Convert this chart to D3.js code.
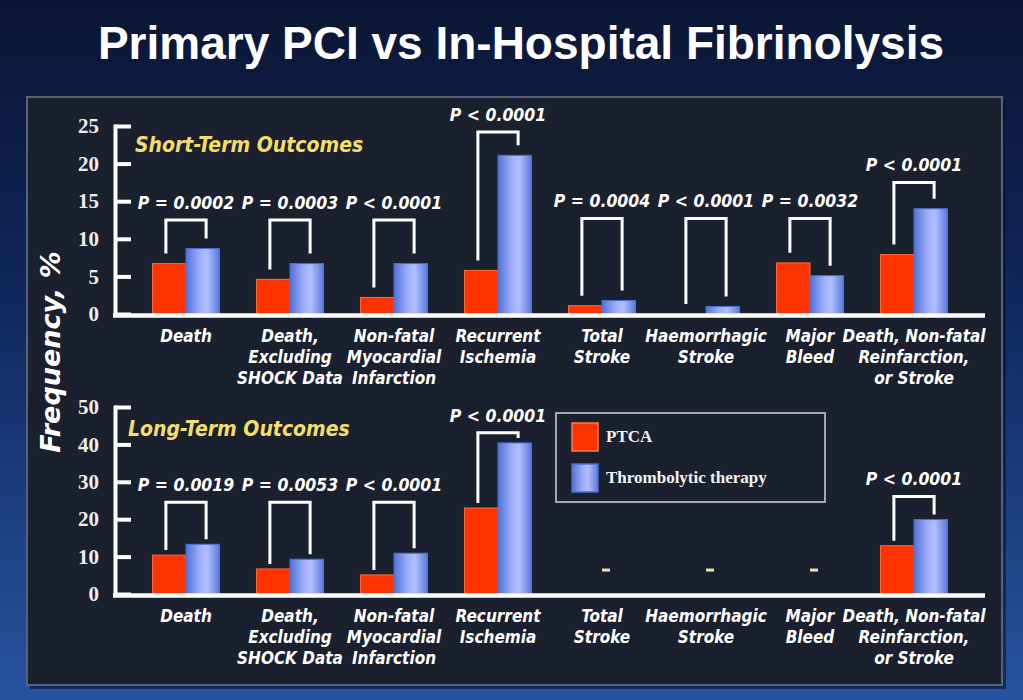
<!DOCTYPE html>
<html>
<head>
<meta charset="utf-8">
<script src="https://cdn.jsdelivr.net/npm/d3@7"></script>
<style>
  body { margin: 0; background: #0b1734; }
  svg { display: block; }
</style>
</head>
<body>
<script>
// chart data
const categories = ["Death", "Death,\nExcluding\nSHOCK Data", "Non-fatal\nMyocardial\nInfarction",
  "Recurrent\nIschemia", "Total\nStroke", "Haemorrhagic\nStroke", "Major\nBleed",
  "Death, Non-fatal\nReinfarction,\nor Stroke"];
const series = ["PTCA", "Thrombolytic therapy"];

const shortPTCA = [6.7, 4.6, 2.2, 5.8, 1.1, 0, 6.8, 7.9];
const shortThrombo = [8.7, 6.7, 6.7, 21.1, 1.8, 1.0, 5.1, 14.0];
const shortP = ["P = 0.0002", "P = 0.0003", "P < 0.0001", "P < 0.0001", "P = 0.0004", "P < 0.0001", "P = 0.0032", "P < 0.0001"];
const shortBracket = [12.5, 12.5, 12.5, 24.2, 12.7, 12.7, 12.7, 17.5];
const shortTicks = [0, 5, 10, 15, 20, 25];

const longPTCA = [10.4, 6.7, 5.1, 23.0, null, null, null, 12.9];
const longThrombo = [13.3, 9.3, 10.9, 40.4, null, null, null, 19.9];
const longP = ["P = 0.0019", "P = 0.0053", "P < 0.0001", "P < 0.0001", null, null, null, "P < 0.0001"];
const longBracket = [24.5, 24.5, 24.5, 43.1, null, null, null, 26.1];
const longTicks = [0, 10, 20, 30, 40, 50];

const width = 1023;
const height = 700;
const svg = d3.select("body").append("svg")
    .attr("width", width)
    .attr("height", height);

const defs = svg.append("defs");
const bg = defs.append("linearGradient").attr("id", "bg")
    .attr("x1", 0).attr("y1", 0).attr("x2", 0).attr("y2", 1);
bg.append("stop").attr("offset", "0%").attr("stop-color", "#0a1634");
bg.append("stop").attr("offset", "40%").attr("stop-color", "#10255a");
bg.append("stop").attr("offset", "100%").attr("stop-color", "#2654a0");

const blue = defs.append("linearGradient").attr("id", "blueBar")
    .attr("x1", 0).attr("y1", 0).attr("x2", 1).attr("y2", 0);
blue.append("stop").attr("offset", "0%").attr("stop-color", "#5272d6");
blue.append("stop").attr("offset", "40%").attr("stop-color", "#9cadf8");
blue.append("stop").attr("offset", "62%").attr("stop-color", "#b2bdff");
blue.append("stop").attr("offset", "100%").attr("stop-color", "#5a7bdf");

svg.append("rect").attr("width", width).attr("height", height).attr("fill", "url(#bg)");

// title
svg.append("text")
    .attr("x", 521).attr("y", 59)
    .attr("text-anchor", "middle")
    .attr("font-family", "'Liberation Sans', Arial, sans-serif")
    .attr("font-weight", "bold")
    .attr("font-size", 46)
    .attr("fill", "#ffffff")
    .text("Primary PCI vs In-Hospital Fibrinolysis");

// panel
svg.append("rect")
    .attr("x", 30).attr("y", 100).attr("width", 976).attr("height", 589)
    .attr("fill", "#0a1228").attr("opacity", 0.6);
svg.append("rect")
    .attr("x", 27).attr("y", 97).attr("width", 975).attr("height", 588)
    .attr("fill", "#1a202d")
    .attr("stroke", "#55637c").attr("stroke-width", 2);

svg.append("text")
    .attr("transform", "translate(60,352) rotate(-90)")
    .attr("text-anchor", "middle")
    .attr("font-family", "'DejaVu Sans', Verdana, sans-serif")
    .attr("font-weight", "bold").attr("font-style", "italic")
    .attr("font-size", 27)
    .attr("fill", "#ffffff")
    .text("Frequency, %");

const x0 = d3.scaleBand()
    .domain(categories)
    .range([134, 966])
    .paddingInner(0.355)
    .paddingOuter(0.1775);
const x1 = d3.scaleBand()
    .domain(series)
    .range([0, x0.bandwidth()]);

const axisX = 115;
const axisEnd = 985;

function drawChart(opts) {
  const g = svg.append("g");
  const y = d3.scaleLinear().domain([0, opts.ticks[opts.ticks.length - 1]]).range(opts.range);

  const yAxis = g.append("g")
      .attr("transform", `translate(${axisX},0)`)
      .call(d3.axisLeft(y).tickValues(opts.ticks).tickSizeInner(-16).tickSizeOuter(0).tickPadding(16));
  yAxis.select(".domain").attr("stroke", "#fff").attr("stroke-width", 4).attr("stroke-linecap", "square");
  yAxis.selectAll(".tick line").attr("stroke", "#fff").attr("stroke-width", 4);
  yAxis.selectAll(".tick text")
      .attr("fill", "#eeeeee")
      .attr("font-family", "'Liberation Serif', 'Times New Roman', serif")
      .attr("font-weight", "bold")
      .attr("font-size", 21);

  // section title
  g.append("text")
      .attr("x", opts.titleX).attr("y", opts.titleY)
      .attr("font-family", "'DejaVu Sans Condensed', 'DejaVu Sans', sans-serif")
      .attr("font-weight", "bold").attr("font-style", "italic")
      .attr("font-size", 21)
      .attr("fill", "#f2de6c")
      .attr("stroke", "#2a2410").attr("stroke-width", 0.6).attr("paint-order", "stroke")
      .text(opts.title);

  const rows = categories.map((c, i) => ({
    cat: c,
    vals: [opts.ptca[i], opts.thrombo[i]],
    p: opts.p[i],
    bracket: opts.bracket[i]
  }));

  // bars
  const groups = g.selectAll(".grp").data(rows).enter().append("g")
      .attr("transform", d => `translate(${x0(d.cat)},0)`);
  groups.selectAll("rect")
      .data(d => d.vals.map((v, k) => ({ s: series[k], v: v })).filter(e => e.v != null && e.v > 0))
      .enter().append("rect")
      .attr("x", e => x1(e.s))
      .attr("y", e => y(e.v))
      .attr("width", x1.bandwidth())
      .attr("height", e => y(0) - y(e.v))
      .attr("fill", e => e.s === "PTCA" ? "#ff3300" : "url(#blueBar)")
      .attr("stroke", e => e.s === "PTCA" ? "#ff6a3a" : "#4a6fd3")
      .attr("stroke-width", 1);

  // brackets and p values
  const off = x0.bandwidth() * 0.3;
  const withP = rows.filter(d => d.p != null);
  withP.forEach(d => {
    const cx = x0(d.cat) + x0.bandwidth() / 2;
    const top = y(d.bracket);
    const yl = y(d.vals[0]) - opts.gap;
    const yr = y(d.vals[1]) - opts.gap;
    g.append("path")
        .attr("d", `M${cx - off},${yl}V${top}H${cx + off}V${yr}`)
        .attr("fill", "none")
        .attr("stroke", "#ffffff")
        .attr("stroke-width", 3);
    g.append("text")
        .attr("x", cx).attr("y", top - 11)
        .attr("text-anchor", "middle")
        .attr("font-family", "'DejaVu Sans Condensed', 'DejaVu Sans', sans-serif")
        .attr("font-weight", "bold").attr("font-style", "italic")
        .attr("font-size", 17.5)
        .attr("fill", "#ffffff")
        .text(d.p);
  });

  // missing-data dashes
  rows.filter(d => d.vals[0] == null).forEach(d => {
    g.append("rect")
        .attr("x", x0(d.cat) + x0.bandwidth() / 2)
        .attr("y", y(6.4) - 1.5)
        .attr("width", 8).attr("height", 3)
        .attr("fill", "#f7d9a4");
  });

  // x axis line
  g.append("line")
      .attr("x1", axisX - 2).attr("x2", axisEnd)
      .attr("y1", y(0) + 1.5).attr("y2", y(0) + 1.5)
      .attr("stroke", "#fff").attr("stroke-width", 4.5);

  // category labels
  const labs = g.selectAll(".cat").data(categories).enter().append("text")
      .attr("x", d => x0(d) + x0.bandwidth() / 2)
      .attr("y", y(0) + 28)
      .attr("text-anchor", "middle")
      .attr("font-family", "'DejaVu Sans Condensed', 'DejaVu Sans', sans-serif")
      .attr("font-weight", "bold").attr("font-style", "italic")
      .attr("font-size", 17)
      .attr("fill", "#ffffff");
  labs.selectAll("tspan")
      .data(d => d.split("\n"))
      .enter().append("tspan")
      .attr("x", function () { return d3.select(this.parentNode).attr("x"); })
      .attr("dy", (t, i) => i === 0 ? 0 : 21)
      .text(t => t);
}

drawChart({
  range: [314, 126], ticks: shortTicks,
  ptca: shortPTCA, thrombo: shortThrombo, p: shortP, bracket: shortBracket,
  gap: 10, title: "Short-Term Outcomes", titleX: 135, titleY: 152
});
drawChart({
  range: [594, 407], ticks: longTicks,
  ptca: longPTCA, thrombo: longThrombo, p: longP, bracket: longBracket,
  gap: 5, title: "Long-Term Outcomes", titleX: 128, titleY: 436
});

// legend
const legend = svg.append("g");
legend.append("rect")
    .attr("x", 556).attr("y", 413).attr("width", 269).attr("height", 89)
    .attr("fill", "none").attr("stroke", "#a2a6ae").attr("stroke-width", 2);
const li = legend.selectAll(".li").data(series).enter().append("g")
    .attr("transform", (d, i) => `translate(572,${423 + i * 41})`);
li.append("rect")
    .attr("width", 26).attr("height", 28)
    .attr("fill", d => d === "PTCA" ? "#ff3300" : "url(#blueBar)")
    .attr("stroke", d => d === "PTCA" ? "#ff7a4a" : "#4a6fd3")
    .attr("stroke-width", 1.5);
li.append("text")
    .attr("x", 34).attr("y", 19)
    .attr("font-family", "'Liberation Serif', 'Times New Roman', serif")
    .attr("font-weight", "bold")
    .attr("font-size", 17)
    .attr("fill", "#f2f2f2")
    .text(d => d);
</script>
</body>
</html>
